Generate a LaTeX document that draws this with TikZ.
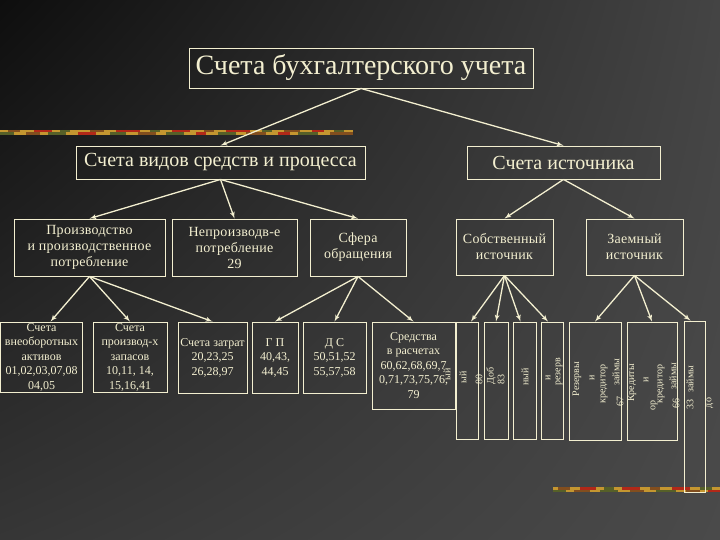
\documentclass[tikz,border=0pt]{standalone}
\usepackage{fontspec}
\setmainfont{Liberation Serif}
\usetikzlibrary{arrows,positioning,shadings}

\definecolor{cream}{RGB}{243,239,208}
\definecolor{stripy}{RGB}{196,150,48}
\definecolor{stripr}{RGB}{178,40,24}
\definecolor{stripg}{RGB}{86,96,40}
\definecolor{stripb}{RGB}{130,78,30}
\definecolor{bgul}{RGB}{14,14,14}
\definecolor{bgur}{RGB}{68,68,68}
\definecolor{bgll}{RGB}{54,54,54}
\definecolor{bglr}{RGB}{74,74,74}

\begin{document}
\begin{tikzpicture}[
    x=1pt, y=1pt,
    node distance=85pt,
    >=latex',
    text=cream,
    head/.style={
		rectangle,
		draw=cream,
		line width=0.9pt,
		inner sep=0pt,
		text centered,
		minimum width=344pt,
		minimum height=40pt,
		font=\fontsize{28}{30}\selectfont
	},
	kind/.style={
		rectangle,
		draw=cream,
		line width=0.9pt,
		inner sep=0pt,
		text centered,
		minimum height=33pt,
		font=\fontsize{20}{22}\selectfont
	},
	group/.style={
		rectangle,
		draw=cream,
		line width=0.9pt,
		inner sep=0pt,
		align=center,
		minimum height=57pt,
		font=\fontsize{14}{16}\selectfont\addfontfeature{LetterSpace=2}
	},
	account/.style={
		rectangle,
		draw=cream,
		line width=0.9pt,
		inner sep=0pt,
		align=center,
		minimum height=71pt,
		font=\fontsize{12}{14.5}\selectfont
	},
	source/.style={
		rectangle,
		draw=cream,
		line width=0.9pt,
		inner sep=0pt,
		minimum height=117pt
	},
	garble/.style={
		rotate=90,
		inner sep=0pt,
		font=\fontsize{10}{10}\selectfont
	},
	link/.style={
		->,
		draw=cream,
		line width=1.3pt
	}
  ]

% // background
\useasboundingbox (0,0) rectangle (720,-540);
\shade [upper left=bgul, upper right=bgur, lower left=bgll, lower right=bglr] (0,0) rectangle (720,-540);

% // strips
\fill [stripy] (0,-130) rectangle (353,-135);
\foreach \a/\b/\c in {8/20/stripb, 34/52/stripr, 60/70/stripg, 90/104/stripb, 116/140/stripr,
                      150/160/stripg, 172/190/stripr, 204/214/stripb, 226/250/stripr,
                      262/272/stripg, 284/300/stripb, 312/324/stripr, 334/344/stripg}
  \fill [\c] (\a,-130) rectangle (\b,-132.5);
\foreach \a/\b/\c in {0/14/stripg, 26/40/stripb, 48/66/stripg, 78/96/stripr, 110/126/stripg,
                      138/156/stripb, 166/184/stripg, 196/206/stripr, 218/236/stripg,
                      246/266/stripb, 278/290/stripr, 298/318/stripg, 330/353/stripb}
  \fill [\c] (\a,-132.5) rectangle (\b,-135);
\fill [stripy] (553,-487) rectangle (720,-492);
\foreach \a/\b/\c in {558/570/stripb, 580/596/stripr, 604/614/stripg, 622/640/stripr,
                      650/660/stripb, 672/690/stripr, 700/712/stripg}
  \fill [\c] (\a,-487) rectangle (\b,-489.5);
\foreach \a/\b/\c in {553/566/stripg, 574/590/stripb, 600/618/stripg, 630/644/stripb,
                      656/676/stripg, 686/700/stripb, 708/720/stripr}
  \fill [\c] (\a,-489.5) rectangle (\b,-492);

% // the tree
\node [head] at (361,-68) (title) {Счета бухгалтерского учета};

\node [kind, below of=title, xshift=-140.5pt, yshift=-9.5pt, minimum width=289pt] (means) {Счета видов средств и процесса};
\node [kind, below of=title, xshift=202.5pt, yshift=-9.5pt, minimum width=193pt] (origin) {Счета источника};

\node [group, below of=means, xshift=-131pt, minimum width=151pt] (prod)
 {Производство\\и производственное\\потребление};
\node [group, below of=means, xshift=14pt, minimum width=125pt] (nonprod)
 {Непроизводв-е\\потребление\\29};
\node [group, below of=means, xshift=137.5pt, minimum width=96pt] (sphere)
 {Сфера\\обращения};
\node [group, below of=origin, xshift=-59pt, yshift=0.5pt, minimum width=97pt, minimum height=56pt] (own)
 {Собственный\\источник};
\node [group, below of=origin, xshift=71pt, yshift=0.5pt, minimum width=97pt, minimum height=56pt] (loan)
 {Заемный\\источник};

% accounts
\node [account, below of=prod, xshift=-48pt, yshift=-24.5pt, minimum width=82pt, minimum height=70pt] (fixed)
 {Счета\\внеоборотных\\активов\\01,02,03,07,08\\04,05};
\node [account, below of=prod, xshift=40.5pt, yshift=-24.5pt, minimum width=74pt, minimum height=70pt] (stock)
 {Счета\\производ-х\\запасов\\10,11, 14,\\15,16,41};
\node [account, below of=nonprod, xshift=-22pt, yshift=-25pt, minimum width=69pt] (costs)
 {Счета затрат\\20,23,25\\26,28,97};
\node [account, below of=sphere, xshift=-83pt, yshift=-25pt, minimum width=46pt] (goods)
 {Г П\\40,43,\\44,45};
\node [account, below of=sphere, xshift=-23.5pt, yshift=-25pt, minimum width=63pt] (cash)
 {Д С\\50,51,52\\55,57,58};
\node [account, below of=sphere, xshift=55.5pt, yshift=-33pt, minimum width=83pt, minimum height=87pt] (settle)
 {Средства\\в расчетах\\60,62,68,69,7\\0,71,73,75,76,\\79};

% sources
\node [source, below of=own, xshift=-37.5pt, yshift=-48.5pt, minimum width=22pt] (src1) {};
\node [source, below of=own, xshift=-8.5pt, yshift=-48.5pt, minimum width=24pt] (src2) {};
\node [source, below of=own, xshift=20pt, yshift=-48.5pt, minimum width=23pt] (src3) {};
\node [source, below of=own, xshift=47.5pt, yshift=-48.5pt, minimum width=22pt] (src4) {};
\node [source, below of=loan, xshift=-39.5pt, yshift=-49pt, minimum width=52pt, minimum height=118pt] (src5) {};
\node [source, below of=loan, xshift=17.5pt, yshift=-49pt, minimum width=50pt, minimum height=118pt] (src6) {};
\node [source, below of=loan, xshift=60pt, yshift=-74.5pt, minimum width=21pt, minimum height=171pt] (src7) {};

% broken vertical text
\node [garble] at (447,-374) (g1) {ый};
\node [garble] at (463,-377) (g2) {ый};
\node [garble] at (479,-379) (g3) {80};
\node [garble] at (491,-376) (g4) {Доб};
\node [garble] at (501,-379) (g5) {83};
\node [garble] at (525,-377) (g6) {ный};
\node [garble] at (548,-378) (g7) {и};
\node [garble] at (559,-372) (g8) {резерв};
\node [garble] at (577,-379) (g9) {Резервы};
\node [garble] at (592,-378) (g10) {и};
\node [garble] at (604,-384) (g11) {кредитор};
\node [garble] at (616,-372) (g12) {займы};
\node [garble] at (620,-401) (g13) {67};
\node [garble] at (632,-383) (g14) {Кредиты};
\node [garble] at (646,-380) (g15) {и};
\node [garble] at (654,-405) (g16) {ор};
\node [garble] at (661,-384) (g17) {кредитор};
\node [garble] at (673,-376) (g18) {займы};
\node [garble] at (676,-403) (g19) {66};
\node [garble] at (690,-379) (g20) {займы};
\node [garble] at (690,-404) (g21) {33};
\node [garble] at (710,-403) (g22) {до};

% // connectors
\draw [link] (title.south) -- (means.north);
\draw [link] (title.south) -- (origin.north);

\draw [link] (means.south) -- (prod.north);
\draw [link] (means.south) -- (nonprod.north);
\draw [link] (means.south) -- (sphere.north);
\draw [link] (origin.south) -- (own.north);
\draw [link] (origin.south) -- (loan.north);

\draw [link] (prod.south) -- ([xshift=9pt]fixed.north);
\draw [link] (prod.south) -- (stock.north);
\draw [link] (prod.south) -- (costs.north);
\draw [link] (sphere.south) -- (goods.north);
\draw [link] (sphere.south) -- (cash.north);
\draw [link] (sphere.south) -- (settle.north);

\draw [link] (own.south) -- ([xshift=4pt]src1.north);
\draw [link] (own.south) -- (src2.north);
\draw [link] (own.south) -- ([xshift=-4pt]src3.north);
\draw [link] (own.south) -- ([xshift=-4pt]src4.north);
\draw [link] (loan.south) -- (src5.north);
\draw [link] (loan.south) -- (src6.north);
\draw [link] (loan.south) -- ([xshift=-4pt]src7.north);

\end{tikzpicture}
\end{document}
